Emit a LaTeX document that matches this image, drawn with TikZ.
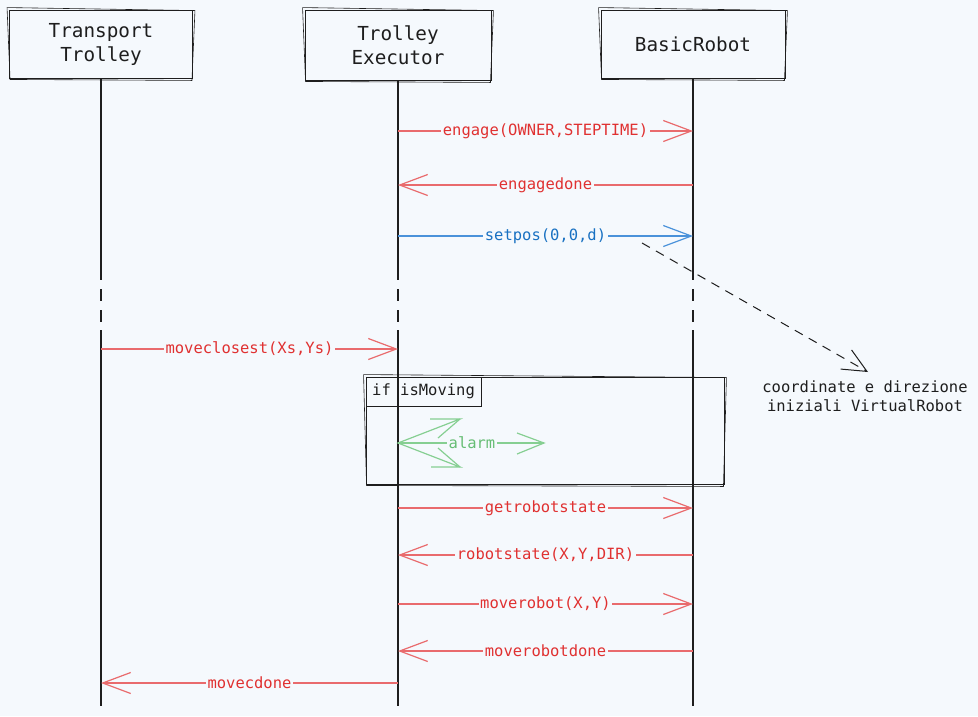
\documentclass[tikz,border=0pt]{standalone}
\usepackage{fontspec}
\setmonofont{DejaVu Sans Mono}
\usetikzlibrary{arrows.meta,calc}

\definecolor{bg}{HTML}{F5F9FD}
\definecolor{ink}{HTML}{1E1E1E}
\definecolor{redtxt}{HTML}{E03131}
\definecolor{redln}{HTML}{E96B6D}
\definecolor{bluetxt}{HTML}{1971C2}
\definecolor{blueln}{HTML}{4A92DA}
\definecolor{greentxt}{HTML}{66BD74}
\definecolor{greenln}{HTML}{86CF92}

\tikzset{
  actor/.style={draw=ink, line width=0.9pt, align=center, text=ink,
    font=\ttfamily\fontsize{19.3}{24}\selectfont},
  life/.style={draw=ink, line width=1.1pt},
  lifegap/.style={life, dash pattern=on 12pt off 9pt},
  msg/.style={line width=1.2pt,
    -{Straight Barb[length=28pt,width=21pt,line width=1.2pt]}},
  msgred/.style={msg, draw=redln},
  msgblue/.style={msg, draw=blueln},
  lbl/.style={fill=bg, inner sep=1.5pt, font=\ttfamily\fontsize{15.5}{19}\selectfont},
  sketch/.style={draw=ink, line width=0.6pt},
}

% second, slightly skewed outline to give boxes a hand-drawn look
\newcommand\sketchbox[1]{%
  \draw[sketch] ($(#1.north west)+(-2,-2)$) -- ($(#1.north east)+(2,1)$)
    -- ($(#1.south east)+(-1,2)$) -- ($(#1.south west)+(1,1)$) -- cycle;}

\begin{document}
\begin{tikzpicture}[x=1pt, y=-1pt]
  \fill[bg] (0,0) rectangle (978,716);
  \useasboundingbox (0,0) rectangle (978,716);

  % participants
  \node[actor, minimum width=183pt, minimum height=68pt] (tt) at (101,44) {Transport\\Trolley};
  \node[actor, minimum width=186pt, minimum height=70pt] (te) at (398,45) {Trolley\\Executor};
  \node[actor, minimum width=184pt, minimum height=68pt] (br) at (693,44) {BasicRobot};
  \sketchbox{tt}
  \sketchbox{te}
  \sketchbox{br}

  % rows
  \coordinate (gapA) at (0,268);
  \coordinate (gapB) at (0,330);
  \coordinate (bottom) at (0,706);
  \coordinate (r1) at (0,131);
  \coordinate (r2) at (0,185);
  \coordinate (r3) at (0,236);
  \coordinate (r4) at (0,349);
  \coordinate (r5) at (0,443);
  \coordinate (r6) at (0,508);
  \coordinate (r7) at (0,555);
  \coordinate (r8) at (0,604);
  \coordinate (r9) at (0,651);
  \coordinate (r10) at (0,683);

  % lifelines
  \foreach \p in {tt,te,br}{
    \draw[life] (\p.south) -- (\p |- gapA);
    \draw[lifegap] (\p |- gapA) -- (\p |- gapB);
    \draw[life] (\p |- gapB) -- (\p |- bottom);
  }

  % messages
  \draw[msgred] (te |- r1) -- node[lbl, text=redtxt] {engage(OWNER,STEPTIME)} (br |- r1);
  \draw[msgred] (br |- r2) -- node[lbl, text=redtxt] {engagedone} (te |- r2);
  \draw[msgblue] (te |- r3) -- node[lbl, text=bluetxt] {setpos(0,0,d)} (br |- r3);

  % note
  \node[font=\ttfamily\fontsize{15.5}{19}\selectfont, align=center, text=ink] (note) at (865,396)
    {coordinate e direzione\\iniziali VirtualRobot};
  \coordinate (noteFrom) at (642,243);
  \coordinate (noteTip) at (868,372);
  \draw[ink, line width=1pt, dash pattern=on 9pt off 7pt,
    -{Straight Barb[length=24pt,width=22pt,line width=1pt,sep=0pt]}] (noteFrom) -- (noteTip);

  \draw[msgred] (tt |- r4) -- node[lbl, text=redtxt] {moveclosest(Xs,Ys)} (te |- r4);

  % alt frame
  \node[draw=ink, line width=0.9pt, minimum width=358pt, minimum height=107pt] (frame) at (545,430.5) {};
  \sketchbox{frame}
  \node[draw=ink, line width=1pt, anchor=north west, minimum width=115pt, minimum height=29pt,
    inner sep=0pt, font=\ttfamily\fontsize{15.5}{19}\selectfont, text=ink, fill=bg, fill opacity=0, text opacity=1]
    (cond) at (frame.north west) {if isMoving};

  % alarm (self message)
  \coordinate (alarmEnd) at (544,443);
  \draw[greenln, line width=1.2pt] (te |- r5) -- (alarmEnd);
  \draw[greenln, line width=1.2pt] (517,433) -- (alarmEnd) -- (517,454);
  \draw[greenln, line width=1.2pt] (430,419) -- (460,419) -- (te |- r5) -- (460,467) -- (431,467);
  \draw[greenln, line width=1.2pt] (460,419) -- (438,438);
  \draw[greenln, line width=1.2pt] (460,467) -- (438,448);
  \node[lbl, text=greentxt] (alarm) at (472,443) {alarm};

  \draw[msgred] (te |- r6) -- node[lbl, text=redtxt] {getrobotstate} (br |- r6);
  \draw[msgred] (br |- r7) -- node[lbl, text=redtxt] {robotstate(X,Y,DIR)} (te |- r7);
  \draw[msgred] (te |- r8) -- node[lbl, text=redtxt] {moverobot(X,Y)} (br |- r8);
  \draw[msgred] (br |- r9) -- node[lbl, text=redtxt] {moverobotdone} (te |- r9);
  \draw[msgred] (te |- r10) -- node[lbl, text=redtxt] {movecdone} (tt |- r10);
\end{tikzpicture}
\end{document}
